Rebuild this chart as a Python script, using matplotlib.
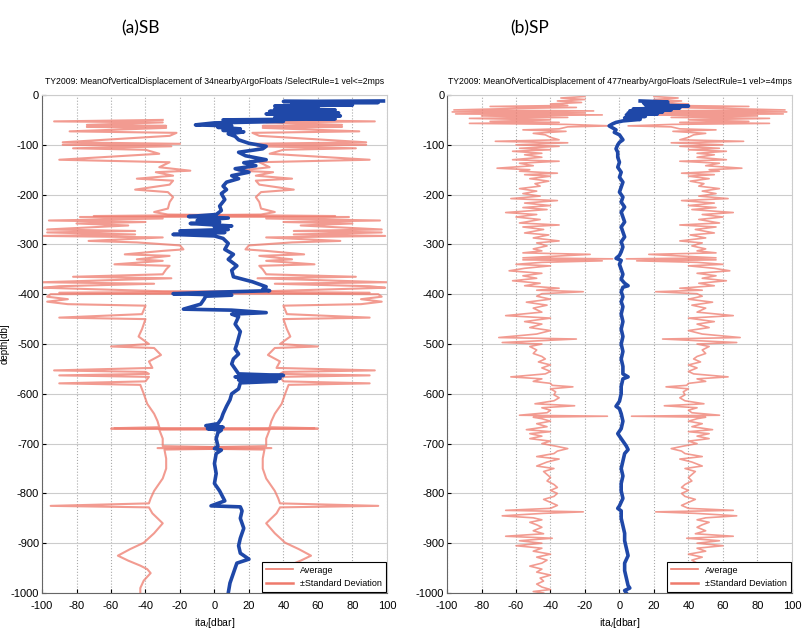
import matplotlib
matplotlib.use('Agg')
import matplotlib.pyplot as plt
import numpy as np
from matplotlib.lines import Line2D

plt.rcParams['axes.unicode_minus'] = False

# ---- (a) SB : mean displacement profile (depth, value)
sb_mean_depth = [-12, -13, -15, -17, -20, -22, -25, -28, -30, -33, -36, -38, -42, -45, -48, -50, -53, -56,
                 -60, -62, -65, -68, -71, -74, -78, -83, -90, -97, -103, -108, -115, -122, -130, -136, -142,
                 -148, -155, -162, -168, -175, -183, -190, -198, -210, -223, -232, -240, -244, -247, -252,
                 -255, -258, -263, -265, -270, -273, -276, -280, -283, -288, -298, -310, -320, -330, -343,
                 -352, -365, -375, -385, -390, -393, -396, -399, -402, -404, -410, -420, -430, -432, -437,
                 -440, -445, -460, -475, -500, -510, -520, -530, -540, -550, -560, -563, -566, -569, -572,
                 -575, -578, -590, -600, -612, -625, -640, -650, -660, -664, -667, -670, -673, -678, -690,
                 -705, -710, -713, -720, -740, -760, -780, -795, -815, -825, -827, -835, -850, -870, -890,
                 -905, -920, -932, -940, -960, -980, -1000]
sb_mean = [98, 40, 95, 45, 80, 35, 60, 35, 70, 32, 72, 30, 73, 35, 70, 5, 40, 0,
           -11, 10, 2, 15, 5, 17, 8, 12, 14, 20, 30, 28, 14, 18, 30, 17, 24,
           12, 20, 10, 14, 7, 5, 7, 4, 6, 3, 4, 1, -15, 8, -10,
           3, -14, 10, 0, 8, -20, 6, -24, 0, 5, 8, 6, 11, 8, 13,
           10, 11, 22, 30, 28, 32, 0, -24, 10, -5, -6, -8, -18, 10, 30,
           10, 14, 12, 15, 13, 12, 14, 11, 10, 12, 14, 40, 12, 38, 14,
           36, 15, 14, 10, 9, 7, 5, 4, 2, -5, 5, -4, 4, 2, 1,
           2, 0, 4, 1, 0, 1, 0, 3, 6, -2, 15, 16, 15, 17, 15,
           14, 15, 20, 13, 11, 9, 8]

# ---- (a) SB : standard deviation half-width (depth, value)
sb_std_depth = [-50, -53, -55, -60, -62, -64, -66, -73, -76, -82, -95, -98, -100, -103, -107, -110, -118,
                -130, -135, -145, -152, -155, -162, -168, -172, -180, -190, -195, -205, -215, -228, -235,
                -240, -243, -245, -248, -252, -255, -258, -262, -270, -273, -276, -280, -283, -286, -293,
                -296, -302, -310, -313, -320, -323, -330, -333, -340, -343, -350, -360, -365, -368, -376,
                -379, -384, -387, -390, -394, -397, -400, -405, -410, -415, -420, -423, -440, -447, -450,
                -470, -485, -500, -505, -508, -515, -522, -535, -548, -553, -556, -560, -563, -566, -575,
                -579, -582, -600, -620, -640, -655, -667, -669, -670, -672, -690, -705, -709, -712, -730,
                -750, -770, -795, -810, -820, -825, -828, -840, -860, -880, -899, -912, -925, -935, -945,
                -952, -960, -975, -990, -1000]
sb_std = [30, 93, 30, 74, 28, 74, 28, 84, 22, 26, 88, 20, 88, 25, 82, 40, 32,
          90, 26, 32, 14, 34, 24, 45, 24, 26, 46, 27, 24, 26, 27, 35,
          27, -70, 78, 30, 96, 40, 80, 50, 97, 46, 97, 46, 99, 30, 73,
          45, 20, 18, 30, 52, 26, 45, 30, 58, 26, 28, 30, 82, 25, 100,
          35, 90, 99, 70, 30, -90, 95, 97, 85, 97, 85, 40, 42, 90, 40,
          42, 44, 38, 60, 35, 33, 31, 38, 36, 93, 40, 38, 90, 38, 40,
          90, 43, 41, 39, 35, 33, 32, 58, -60, 32, 30, 30, -33, 29, 28,
          28, 30, 35, 37, 38, 95, 38, 36, 30, 35, 41, 49, 56, 50, 43,
          39, 37, 41, 43, 43]

# ---- (b) SP : mean displacement profile (depth, value)
sp_mean_depth = [-12, -14, -16, -18, -20, -22, -24, -26, -28, -30, -32, -34, -36, -38, -40, -43, -46, -49,
                 -52, -55, -58, -62, -66, -70, -75, -80, -85, -90, -95, -100, -108, -115, -125, -135, -145,
                 -155, -165, -175, -185, -195, -205, -215, -225, -235, -245, -255, -265, -275, -285, -295,
                 -305, -315, -322, -328, -332, -340, -350, -360, -370, -378, -383, -386, -395, -405, -415,
                 -425, -440, -455, -470, -485, -500, -515, -530, -545, -560, -566, -570, -585, -600, -615,
                 -625, -630, -640, -655, -670, -680, -685, -695, -705, -712, -720, -735, -750, -765, -780,
                 -795, -810, -825, -830, -835, -850, -865, -880, -895, -910, -925, -940, -955, -970, -985,
                 -990, -995, -1000]
sp_mean = [12, 28, 14, 28, 15, 40, 20, 35, 8, 30, 6, 25, 5, 22, 4, 15, 3, 12,
           2, -2, -4, -6, -4, -2, -3, 0, 1, 2, 0, -1, -2, -1, -1, 0, -1,
           1, 0, 2, 1, 0, 2, 1, 3, 1, 2, 3, 1, 2, 3, 1,
           2, 1, 0, -2, 1, 0, 1, 2, 1, 3, 5, 2, 1, 2, 1,
           2, 1, 2, 1, 2, 1, 2, 1, 2, 2, 5, 2, 1, 1, 0,
           -2, 0, 1, 2, 1, -1, 0, 2, 4, 5, 3, 2, 1, 2, 1,
           1, 2, 0, -1, 1, 1, 2, 3, 3, 4, 5, 3, 3, 4, 5,
           6, 3, 4]

# ---- (b) SP : standard deviation half-width (depth, value)
sp_std_depth = [-3, -6, -9, -12, -15, -18, -21, -23, -25, -27, -30, -32, -34, -36, -38, -40, -42, -45,
                -47, -50, -53, -55, -57, -59, -62, -64, -68, -70, -73, -77, -80, -85, -90, -93, -96, -100,
                -103, -107, -110, -113, -117, -120, -125, -130, -133, -137, -142, -147, -150, -153, -157,
                -160, -163, -168, -173, -178, -183, -188, -193, -198, -203, -208, -212, -217, -222, -226,
                -230, -236, -240, -245, -250, -257, -261, -265, -270, -277, -281, -287, -293, -297, -303,
                -309, -313, -317, -320, -325, -327, -329, -331, -333, -336, -340, -343, -348, -353, -358,
                -363, -368, -373, -378, -383, -388, -392, -395, -399, -404, -410, -416, -422, -428, -436,
                -443, -448, -455, -460, -467, -473, -480, -487, -490, -494, -497, -500, -505, -512, -519,
                -525, -530, -536, -542, -548, -555, -560, -566, -570, -575, -579, -583, -586, -590, -596,
                -602, -608, -614, -620, -624, -628, -633, -638, -643, -645, -647, -650, -655, -660, -666,
                -672, -676, -680, -685, -690, -695, -700, -705, -710, -715, -720, -726, -731, -737, -745,
                -750, -756, -762, -768, -775, -782, -788, -794, -800, -806, -812, -818, -824, -830, -834,
                -837, -840, -845, -849, -853, -858, -863, -868, -875, -881, -886, -890, -895, -900, -905,
                -910, -916, -922, -928, -934, -940, -946, -952, -958, -964, -970, -976, -982, -988, -993,
                -997, -1000]
sp_std = [20, 34, 20, 36, 22, 40, 30, 75, 25, 60, 96, 15, 97, 20, 95, 10, 80, 30,
          87, 40, 75, 35, 87, 31, 5, 30, 35, 56, 31, 50, 43, 40, 35, 72, 30, 60,
          35, 58, 40, 62, 45, 55, 45, 62, 35, 58, 50, 71, 52, 58, 36,
          55, 40, 52, 41, 49, 46, 58, 48, 56, 46, 63, 36, 55, 40, 56,
          42, 66, 48, 60, 46, 58, 35, 56, 44, 55, 41, 50, 35, 48, 42,
          50, 45, 56, 17, 45, 56, 4, 56, 10, 45, 60, 40, 55, 64, 45,
          56, 48, 62, 46, 55, 35, 48, 21, 45, 48, 40, 54, 42, 50, 45,
          66, 40, 55, 45, 52, 40, 48, 70, 25, 50, 68, 45, 52, 48, 50,
          45, 43, 47, 40, 45, 40, 43, 63, 45, 50, 40, 39, 27, 40, 37,
          38, 35, 38, 49, 26, 45, 40, 42, 58, 7, 50, 45, 40, 48, 42,
          54, 40, 52, 45, 52, 40, 45, 37, 30, 36, 38, 48, 35, 42, 48,
          38, 44, 42, 40, 42, 38, 36, 40, 36, 38, 44, 40, 36, 40, 66,
          21, 44, 68, 50, 45, 52, 48, 45, 50, 44, 66, 39, 58, 45, 60,
          45, 50, 40, 48, 42, 45, 52, 45, 48, 40, 46, 44, 48, 45, 40,
          50, 44]

titles = ['TY2009: MeanOfVerticalDisplacement of 34nearbyArgoFloats /SelectRule=1 vel<=2mps',
          'TY2009: MeanOfVerticalDisplacement of 477nearbyArgoFloats /SelectRule=1 vel>=4mps']
panel_names = ['(a)SB', '(b)SP']

SALMON = '#ee7a6c'
BLUE = '#1f48a8'
FONT = ['Liberation Sans', 'DejaVu Sans']


def draw_panel(ax, mean_depth, mean, std_depth, std, title, show_ylabel, red_lw):
    std = np.array(std)
    ax.plot(-std, std_depth, color=SALMON, lw=red_lw, alpha=0.75)
    ax.plot(std, std_depth, color=SALMON, lw=red_lw, alpha=0.75)
    ax.plot(mean, mean_depth, color=BLUE, lw=2.6)

    ax.set_xlim(-100, 100)
    ax.set_ylim(-1000, 0)
    ax.set_xticks(np.arange(-100, 101, 20))
    ax.set_yticks(np.arange(-1000, 1, 100))
    ax.xaxis.grid(True, ls=':', color='#aaaaaa', lw=0.8)
    ax.yaxis.grid(True, ls='-', color='#cccccc', lw=0.8)
    ax.tick_params(direction='in', length=3, labelsize=8)
    ax.tick_params(axis='x', pad=6)
    ax.tick_params(axis='y', pad=2)
    for lab in ax.get_xticklabels() + ax.get_yticklabels():
        lab.set_family(FONT)
    for s in ['top', 'right']:
        ax.spines[s].set_color('#cccccc')
    for s in ['left', 'bottom']:
        ax.spines[s].set_color('#666666')

    ax.set_title(title, fontsize=6.2, family=FONT, pad=8)
    ax.set_xlabel('ita$_i$[dbar]', fontsize=7.5, family=FONT, labelpad=3)
    if show_ylabel:
        ax.set_ylabel('depth[db]', fontsize=7, family=FONT, labelpad=1)

    handles = [Line2D([], [], color=SALMON, lw=1.2),
               Line2D([], [], color=SALMON, lw=1.8)]
    leg = ax.legend(handles, ['Average', '\u00b1Standard Deviation'], loc='lower right',
                    frameon=True, fancybox=False, borderaxespad=0.15, framealpha=1,
                    handlelength=3.0, prop={'family': FONT, 'size': 6.5})
    leg.get_frame().set_edgecolor('black')
    leg.get_frame().set_linewidth(0.8)


fig = plt.figure(figsize=(8.02, 6.38), dpi=100)
ax1 = fig.add_axes([0.0524, 0.0705, 0.430, 0.7806])
ax2 = fig.add_axes([0.5574, 0.0705, 0.430, 0.7806])

draw_panel(ax1, sb_mean_depth, sb_mean, sb_std_depth, sb_std, titles[0], True, 1.5)
draw_panel(ax2, sp_mean_depth, sp_mean, sp_std_depth, sp_std, titles[1], False, 1.2)

fig.text(0.175, 0.955, panel_names[0], fontsize=12.5, family=['Lato', 'DejaVu Sans'], ha='center', va='center')
fig.text(0.66, 0.955, panel_names[1], fontsize=12.5, family=['Lato', 'DejaVu Sans'], ha='center', va='center')

fig.savefig('out.png', dpi=100)
